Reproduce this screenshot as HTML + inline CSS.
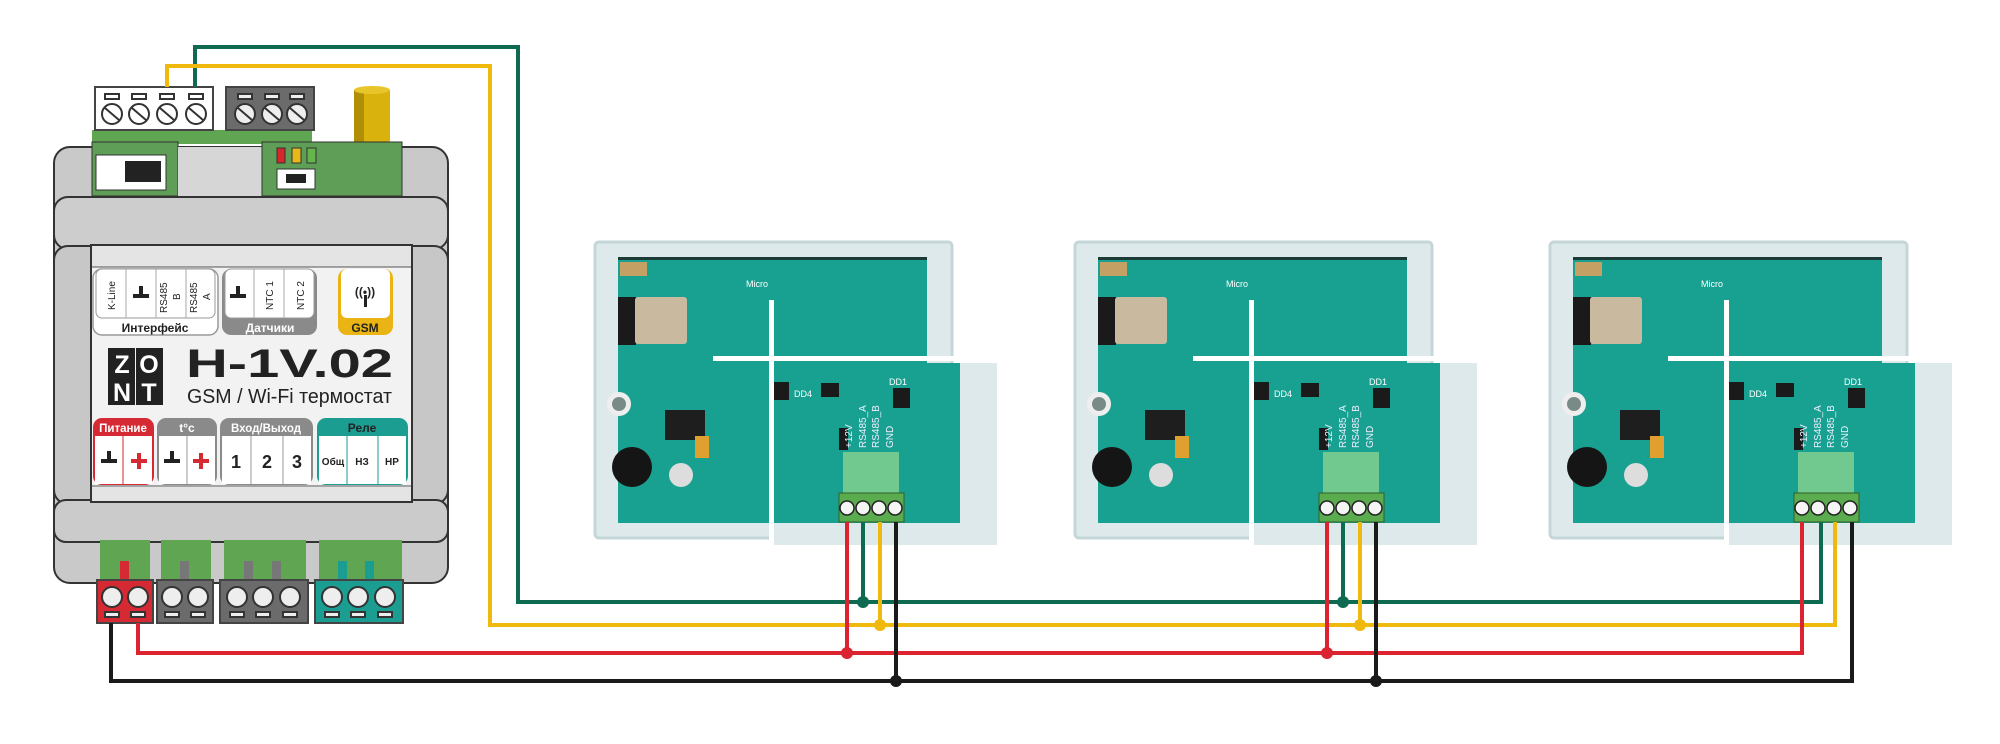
<!DOCTYPE html>
<html><head><meta charset="utf-8"><style>
html,body{margin:0;padding:0;background:#fff;}
svg{display:block;font-family:"Liberation Sans","DejaVu Sans",sans-serif;}
</style></head><body>
<svg width="2000" height="744" viewBox="0 0 2000 744" xmlns="http://www.w3.org/2000/svg">
<rect width="2000" height="744" fill="#fff"/>

<!-- ===== Controller ===== -->
<!-- top terminals -->
<rect x="92" y="130" width="220" height="14" fill="#5fa552"/>
<rect x="95" y="87" width="118" height="43" fill="#fff" stroke="#444" stroke-width="2"/>
<g fill="#fff" stroke="#333" stroke-width="2">
<rect x="105" y="94" width="14" height="5"/><rect x="132" y="94" width="14" height="5"/><rect x="160" y="94" width="14" height="5"/><rect x="189" y="94" width="14" height="5"/>
<circle cx="112" cy="114" r="10"/><circle cx="139" cy="114" r="10"/><circle cx="167" cy="114" r="10"/><circle cx="196" cy="114" r="10"/>
</g>
<g stroke="#333" stroke-width="2"><line x1="105" y1="108" x2="119" y2="120"/><line x1="132" y1="108" x2="146" y2="120"/><line x1="160" y1="108" x2="174" y2="120"/><line x1="189" y1="108" x2="203" y2="120"/></g>
<rect x="226" y="87" width="88" height="43" fill="#6b6b6b" stroke="#444" stroke-width="2"/>
<g fill="#eee" stroke="#333" stroke-width="2">
<rect x="238" y="94" width="14" height="5"/><rect x="265" y="94" width="14" height="5"/><rect x="290" y="94" width="14" height="5"/>
<circle cx="245" cy="114" r="10"/><circle cx="272" cy="114" r="10"/><circle cx="297" cy="114" r="10"/>
</g>
<g stroke="#333" stroke-width="2"><line x1="238" y1="108" x2="252" y2="120"/><line x1="265" y1="108" x2="279" y2="120"/><line x1="290" y1="108" x2="304" y2="120"/></g>
<!-- antenna -->
<rect x="354" y="90" width="36" height="54" fill="#d9b20e"/>
<rect x="354" y="90" width="10" height="54" fill="#b08f06"/>
<ellipse cx="372" cy="90" rx="18" ry="4" fill="#e8c52a"/>

<!-- body -->
<rect x="54" y="147" width="394" height="436" rx="16" fill="#c9c9c9" stroke="#333" stroke-width="2"/>
<rect x="92" y="142" width="86" height="54" fill="#5e9e56" stroke="#333" stroke-width="1"/>
<rect x="96" y="155" width="70" height="35" fill="#fff" stroke="#333" stroke-width="1"/>
<rect x="125" y="161" width="36" height="21" fill="#222"/>
<rect x="178" y="147" width="84" height="49" fill="#d6d6d6"/>
<rect x="262" y="142" width="140" height="54" fill="#5e9e56" stroke="#333" stroke-width="1"/>
<rect x="277" y="148" width="8" height="15" fill="#d8272c" stroke="#333"/>
<rect x="292" y="148" width="9" height="15" fill="#e8b71a" stroke="#333"/>
<rect x="307" y="148" width="9" height="15" fill="#66b44c" stroke="#333"/>
<rect x="277" y="169" width="38" height="20" fill="#fff" stroke="#333"/>
<rect x="286" y="174" width="20" height="9" fill="#222"/>
<!-- horizontal band -->
<rect x="54" y="197" width="394" height="52" rx="14" fill="#cdcdcd" stroke="#333" stroke-width="2"/>
<rect x="54" y="246" width="394" height="258" rx="14" fill="#c7c7c7" stroke="#333" stroke-width="2"/>
<rect x="54" y="500" width="394" height="42" rx="12" fill="#cbcbcb" stroke="#333" stroke-width="2"/>
<!-- label panel -->
<rect x="91" y="245" width="321" height="257" fill="#f2f2f2" stroke="#333" stroke-width="2"/>
<rect x="92" y="246" width="319" height="21" fill="#e4e4e4"/>
<line x1="92" y1="267" x2="411" y2="267" stroke="#555" stroke-width="1"/>
<line x1="92" y1="486" x2="411" y2="486" stroke="#555" stroke-width="1"/>
<rect x="92" y="487" width="319" height="14" fill="#e4e4e4"/>

<!-- Interface group -->
<rect x="93" y="269" width="125" height="66" rx="9" fill="#fff" stroke="#999" stroke-width="1.5"/>
<rect x="96" y="269" width="119" height="49" rx="6" fill="#fff" stroke="#999" stroke-width="1"/>
<g stroke="#aaa" stroke-width="1"><line x1="126" y1="269" x2="126" y2="318"/><line x1="156" y1="269" x2="156" y2="318"/><line x1="186" y1="269" x2="186" y2="318"/></g>
<g font-size="10" fill="#222">
<text transform="translate(115,310) rotate(-90)">K-Line</text>
<text transform="translate(167,313) rotate(-90)">RS485</text>
<text transform="translate(180,300) rotate(-90)">B</text>
<text transform="translate(197,313) rotate(-90)">RS485</text>
<text transform="translate(210,300) rotate(-90)">A</text>
</g>
<rect x="133" y="294" width="16" height="4" fill="#222"/><rect x="139" y="286" width="4" height="10" fill="#222"/>
<text x="155" y="332" font-size="12" font-weight="bold" text-anchor="middle" fill="#222">Интерфейс</text>
<!-- Datchiki -->
<rect x="222" y="269" width="95" height="66" rx="9" fill="#8a8a8a"/>
<rect x="225" y="269" width="89" height="49" rx="6" fill="#fff" stroke="#999"/>
<g stroke="#aaa"><line x1="254" y1="269" x2="254" y2="318"/><line x1="284" y1="269" x2="284" y2="318"/></g>
<rect x="230" y="294" width="16" height="4" fill="#222"/><rect x="236" y="286" width="4" height="10" fill="#222"/>
<g font-size="10" fill="#222"><text transform="translate(273,310) rotate(-90)">NTC 1</text><text transform="translate(304,310) rotate(-90)">NTC 2</text></g>
<text x="270" y="332" font-size="12" font-weight="bold" text-anchor="middle" fill="#fff">Датчики</text>
<!-- GSM -->
<rect x="338" y="269" width="55" height="66" rx="9" fill="#eab414"/>
<rect x="341" y="269" width="49" height="49" rx="6" fill="#fff"/>
<text x="365" y="296" font-size="12" font-weight="bold" text-anchor="middle" fill="#222">((•))</text>
<rect x="364" y="295" width="3" height="12" fill="#222"/>
<text x="365" y="332" font-size="12" font-weight="bold" text-anchor="middle" fill="#222">GSM</text>

<!-- ZONT logo -->
<rect x="108" y="348" width="55" height="57" fill="#222"/>
<g font-size="25" font-weight="bold" fill="#fff" text-anchor="middle">
<text x="122" y="373">Z</text><text x="149" y="373">O</text><text x="122" y="401">N</text><text x="149" y="401">T</text>
</g>
<rect x="135" y="348" width="1" height="57" fill="#f2f2f2"/>
<text x="186" y="377" font-size="40" font-weight="bold" fill="#222" textLength="207" lengthAdjust="spacingAndGlyphs">H-1V.02</text>
<text x="187" y="403" font-size="20" fill="#222" textLength="205" lengthAdjust="spacingAndGlyphs">GSM / Wi-Fi термостат</text>

<!-- bottom groups -->
<rect x="93" y="418" width="61" height="67" rx="9" fill="#d52a33"/>
<rect x="95" y="436" width="57" height="48" fill="#fff"/>
<line x1="123" y1="436" x2="123" y2="484" stroke="#d52a33"/>
<text x="123" y="432" font-size="11.5" font-weight="bold" fill="#fff" text-anchor="middle">Питание</text>
<rect x="101" y="459" width="16" height="4" fill="#222"/><rect x="107" y="451" width="4" height="10" fill="#222"/>
<rect x="131" y="459" width="16" height="4" fill="#d52a33"/><rect x="137" y="453" width="4" height="16" fill="#d52a33"/>

<rect x="157" y="418" width="60" height="67" rx="9" fill="#8a8a8a"/>
<rect x="159" y="436" width="56" height="48" fill="#fff"/>
<line x1="187" y1="436" x2="187" y2="484" stroke="#999"/>
<text x="187" y="432" font-size="12" font-weight="bold" fill="#fff" text-anchor="middle">t°c</text>
<rect x="164" y="459" width="16" height="4" fill="#222"/><rect x="170" y="451" width="4" height="10" fill="#222"/>
<rect x="193" y="459" width="16" height="4" fill="#d52a33"/><rect x="199" y="453" width="4" height="16" fill="#d52a33"/>

<rect x="220" y="418" width="93" height="67" rx="9" fill="#8a8a8a"/>
<rect x="222" y="436" width="89" height="48" fill="#fff"/>
<g stroke="#999"><line x1="251" y1="436" x2="251" y2="484"/><line x1="283" y1="436" x2="283" y2="484"/></g>
<text x="266" y="432" font-size="11.5" font-weight="bold" fill="#fff" text-anchor="middle">Вход/Выход</text>
<g font-size="18" font-weight="bold" fill="#222" text-anchor="middle"><text x="236" y="468">1</text><text x="267" y="468">2</text><text x="297" y="468">3</text></g>

<rect x="317" y="418" width="91" height="67" rx="9" fill="#1b9e91"/>
<rect x="319" y="436" width="87" height="48" fill="#fff"/>
<g stroke="#1b9e91"><line x1="347" y1="436" x2="347" y2="484"/><line x1="378" y1="436" x2="378" y2="484"/></g>
<text x="362" y="432" font-size="12" font-weight="bold" fill="#222" text-anchor="middle">Реле</text>
<g font-size="10" font-weight="bold" fill="#222" text-anchor="middle"><text x="333" y="465">Общ</text><text x="362" y="465">НЗ</text><text x="392" y="465">НР</text></g>

<!-- bottom green blocks -->
<rect x="100" y="540" width="50" height="40" fill="#5fa552"/>
<rect x="161" y="540" width="50" height="40" fill="#5fa552"/>
<rect x="224" y="540" width="82" height="40" fill="#5fa552"/>
<rect x="319" y="540" width="83" height="40" fill="#5fa552"/>
<rect x="120" y="561" width="9" height="19" fill="#d52a33"/>
<rect x="180" y="561" width="9" height="19" fill="#777"/>
<rect x="244" y="561" width="9" height="19" fill="#777"/><rect x="272" y="561" width="9" height="19" fill="#777"/>
<rect x="338" y="561" width="9" height="19" fill="#1b9e91"/><rect x="365" y="561" width="9" height="19" fill="#1b9e91"/>
<!-- bottom terminals -->
<rect x="97" y="580" width="56" height="43" fill="#d52a33" stroke="#444" stroke-width="2"/>
<rect x="157" y="580" width="56" height="43" fill="#6b6b6b" stroke="#444" stroke-width="2"/>
<rect x="220" y="580" width="88" height="43" fill="#6b6b6b" stroke="#444" stroke-width="2"/>
<rect x="315" y="580" width="88" height="43" fill="#1b9e91" stroke="#444" stroke-width="2"/>
<g fill="#eee" stroke="#333" stroke-width="2">
<circle cx="112" cy="597" r="10"/><circle cx="138" cy="597" r="10"/>
<circle cx="172" cy="597" r="10"/><circle cx="198" cy="597" r="10"/>
<circle cx="237" cy="597" r="10"/><circle cx="263" cy="597" r="10"/><circle cx="290" cy="597" r="10"/>
<circle cx="332" cy="597" r="10"/><circle cx="358" cy="597" r="10"/><circle cx="385" cy="597" r="10"/>
<rect x="105" y="612" width="14" height="5"/><rect x="131" y="612" width="14" height="5"/>
<rect x="165" y="612" width="14" height="5"/><rect x="191" y="612" width="14" height="5"/>
<rect x="230" y="612" width="14" height="5"/><rect x="256" y="612" width="14" height="5"/><rect x="283" y="612" width="14" height="5"/>
<rect x="325" y="612" width="14" height="5"/><rect x="351" y="612" width="14" height="5"/><rect x="378" y="612" width="14" height="5"/>
</g>

<!-- ===== Boards ===== -->
<g id="b1" transform="translate(595,242)">
<rect x="0" y="0" width="357" height="296" rx="4" fill="#dde9eb"/>
<rect x="0" y="0" width="357" height="296" rx="4" fill="none" stroke="#c5d6d9" stroke-width="3"/>
<rect x="23" y="15" width="309" height="266" fill="#18a190"/>
<rect x="23" y="15" width="309" height="3" fill="#1c3a36"/>
<rect x="25" y="20" width="27" height="14" fill="#c4a064"/>
<rect x="23" y="55" width="18" height="48" fill="#1a1a1a"/>
<rect x="40" y="55" width="52" height="47" rx="3" fill="#c8b99f"/>
<rect x="70" y="168" width="40" height="30" fill="#1e1e1e"/>
<rect x="100" y="194" width="14" height="22" fill="#e0a030"/>
<circle cx="37" cy="225" r="20" fill="#151515"/>
<circle cx="86" cy="233" r="12" fill="#ddd"/>
<circle cx="24" cy="162" r="12" fill="#eee"/><circle cx="24" cy="162" r="7" fill="#7a8a86"/>
<text x="151" y="45" font-size="9" fill="#fff">Micro</text>
<!-- front piece -->
<rect x="178" y="121" width="224" height="182" fill="#dde9eb"/>
<rect x="178" y="121" width="187" height="160" fill="#18a190"/>
<rect x="178" y="140" width="16" height="18" fill="#1a1a1a"/>
<rect x="226" y="141" width="18" height="14" fill="#1a1a1a"/>
<rect x="298" y="146" width="17" height="20" fill="#1a1a1a"/>
<rect x="244" y="186" width="9" height="22" fill="#1a1a1a"/>
<text x="199" y="155" font-size="9" fill="#fff">DD4</text>
<text x="294" y="143" font-size="9" fill="#fff">DD1</text>
<g font-size="10" fill="#eef">
<text transform="translate(257,206) rotate(-90)">+12V</text>
<text transform="translate(271,206) rotate(-90)">RS485_A</text>
<text transform="translate(284,206) rotate(-90)">RS485_B</text>
<text transform="translate(298,206) rotate(-90)">GND</text>
</g>
<rect x="248" y="210" width="56" height="41" fill="#72c98f"/>
<rect x="244" y="251" width="65" height="29" fill="#5bac4f" stroke="#2f5f2a"/>
<g fill="#f5f5f5" stroke="#222" stroke-width="1.5">
<circle cx="252" cy="266" r="7"/><circle cx="268" cy="266" r="7"/><circle cx="284" cy="266" r="7"/><circle cx="300" cy="266" r="7"/>
</g>
<rect x="118" y="114" width="307" height="5" fill="#fff"/>
<rect x="174" y="58" width="5" height="262" fill="#fff"/>
</g>

<g transform="translate(1075,242)">
<rect x="0" y="0" width="357" height="296" rx="4" fill="#dde9eb"/>
<rect x="0" y="0" width="357" height="296" rx="4" fill="none" stroke="#c5d6d9" stroke-width="3"/>
<rect x="23" y="15" width="309" height="266" fill="#18a190"/>
<rect x="23" y="15" width="309" height="3" fill="#1c3a36"/>
<rect x="25" y="20" width="27" height="14" fill="#c4a064"/>
<rect x="23" y="55" width="18" height="48" fill="#1a1a1a"/>
<rect x="40" y="55" width="52" height="47" rx="3" fill="#c8b99f"/>
<rect x="70" y="168" width="40" height="30" fill="#1e1e1e"/>
<rect x="100" y="194" width="14" height="22" fill="#e0a030"/>
<circle cx="37" cy="225" r="20" fill="#151515"/>
<circle cx="86" cy="233" r="12" fill="#ddd"/>
<circle cx="24" cy="162" r="12" fill="#eee"/><circle cx="24" cy="162" r="7" fill="#7a8a86"/>
<text x="151" y="45" font-size="9" fill="#fff">Micro</text>
<rect x="178" y="121" width="224" height="182" fill="#dde9eb"/>
<rect x="178" y="121" width="187" height="160" fill="#18a190"/>
<rect x="178" y="140" width="16" height="18" fill="#1a1a1a"/>
<rect x="226" y="141" width="18" height="14" fill="#1a1a1a"/>
<rect x="298" y="146" width="17" height="20" fill="#1a1a1a"/>
<rect x="244" y="186" width="9" height="22" fill="#1a1a1a"/>
<text x="199" y="155" font-size="9" fill="#fff">DD4</text>
<text x="294" y="143" font-size="9" fill="#fff">DD1</text>
<g font-size="10" fill="#eef">
<text transform="translate(257,206) rotate(-90)">+12V</text>
<text transform="translate(271,206) rotate(-90)">RS485_A</text>
<text transform="translate(284,206) rotate(-90)">RS485_B</text>
<text transform="translate(298,206) rotate(-90)">GND</text>
</g>
<rect x="248" y="210" width="56" height="41" fill="#72c98f"/>
<rect x="244" y="251" width="65" height="29" fill="#5bac4f" stroke="#2f5f2a"/>
<g fill="#f5f5f5" stroke="#222" stroke-width="1.5">
<circle cx="252" cy="266" r="7"/><circle cx="268" cy="266" r="7"/><circle cx="284" cy="266" r="7"/><circle cx="300" cy="266" r="7"/>
</g>
<rect x="118" y="114" width="307" height="5" fill="#fff"/>
<rect x="174" y="58" width="5" height="262" fill="#fff"/>
</g>

<g transform="translate(1550,242)">
<rect x="0" y="0" width="357" height="296" rx="4" fill="#dde9eb"/>
<rect x="0" y="0" width="357" height="296" rx="4" fill="none" stroke="#c5d6d9" stroke-width="3"/>
<rect x="23" y="15" width="309" height="266" fill="#18a190"/>
<rect x="23" y="15" width="309" height="3" fill="#1c3a36"/>
<rect x="25" y="20" width="27" height="14" fill="#c4a064"/>
<rect x="23" y="55" width="18" height="48" fill="#1a1a1a"/>
<rect x="40" y="55" width="52" height="47" rx="3" fill="#c8b99f"/>
<rect x="70" y="168" width="40" height="30" fill="#1e1e1e"/>
<rect x="100" y="194" width="14" height="22" fill="#e0a030"/>
<circle cx="37" cy="225" r="20" fill="#151515"/>
<circle cx="86" cy="233" r="12" fill="#ddd"/>
<circle cx="24" cy="162" r="12" fill="#eee"/><circle cx="24" cy="162" r="7" fill="#7a8a86"/>
<text x="151" y="45" font-size="9" fill="#fff">Micro</text>
<rect x="178" y="121" width="224" height="182" fill="#dde9eb"/>
<rect x="178" y="121" width="187" height="160" fill="#18a190"/>
<rect x="178" y="140" width="16" height="18" fill="#1a1a1a"/>
<rect x="226" y="141" width="18" height="14" fill="#1a1a1a"/>
<rect x="298" y="146" width="17" height="20" fill="#1a1a1a"/>
<rect x="244" y="186" width="9" height="22" fill="#1a1a1a"/>
<text x="199" y="155" font-size="9" fill="#fff">DD4</text>
<text x="294" y="143" font-size="9" fill="#fff">DD1</text>
<g font-size="10" fill="#eef">
<text transform="translate(257,206) rotate(-90)">+12V</text>
<text transform="translate(271,206) rotate(-90)">RS485_A</text>
<text transform="translate(284,206) rotate(-90)">RS485_B</text>
<text transform="translate(298,206) rotate(-90)">GND</text>
</g>
<rect x="248" y="210" width="56" height="41" fill="#72c98f"/>
<rect x="244" y="251" width="65" height="29" fill="#5bac4f" stroke="#2f5f2a"/>
<g fill="#f5f5f5" stroke="#222" stroke-width="1.5">
<circle cx="252" cy="266" r="7"/><circle cx="268" cy="266" r="7"/><circle cx="284" cy="266" r="7"/><circle cx="300" cy="266" r="7"/>
</g>
<rect x="118" y="114" width="307" height="5" fill="#fff"/>
<rect x="174" y="58" width="5" height="262" fill="#fff"/>
</g>

<!-- ===== Wires ===== -->
<g fill="none" stroke-width="4" stroke-linejoin="miter">
<path d="M195,87 V47 H518 V602 H1821 V522" stroke="#0e6b52"/>
<path d="M167,87 V66 H490 V625 H1835 V522" stroke="#efb90d"/>
<path d="M138,623 V653 H1802 V522" stroke="#dc2330"/>
<path d="M111,623 V681 H1852 V522" stroke="#1a1a1a"/>
<path d="M847,522 V653 M1327,522 V653" stroke="#dc2330"/>
<path d="M863,522 V602 M1343,522 V602" stroke="#0e6b52"/>
<path d="M880,522 V625 M1360,522 V625" stroke="#efb90d"/>
<path d="M896,522 V681 M1376,522 V681" stroke="#1a1a1a"/>
</g>
<g>
<circle cx="863" cy="602" r="6" fill="#0e6b52"/><circle cx="1343" cy="602" r="6" fill="#0e6b52"/>
<circle cx="880" cy="625" r="6" fill="#efb90d"/><circle cx="1360" cy="625" r="6" fill="#efb90d"/>
<circle cx="847" cy="653" r="6" fill="#dc2330"/><circle cx="1327" cy="653" r="6" fill="#dc2330"/>
<circle cx="896" cy="681" r="6" fill="#1a1a1a"/><circle cx="1376" cy="681" r="6" fill="#1a1a1a"/>
</g>
</svg>
</body></html>
